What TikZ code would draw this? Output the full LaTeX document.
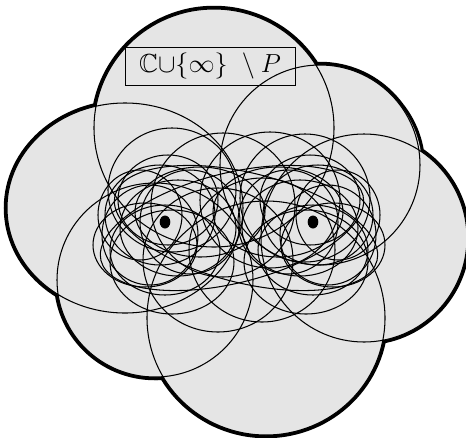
\documentclass[tikz,border=0pt]{standalone}
\usepackage{graphicx}
\usepackage{amssymb}
\begin{document}
\begin{tikzpicture}[x=1pt,y=-1pt,
  thinline/.style={line width=1.05pt},
  thickrim/.style={line width=6.5pt},
  dotstyle/.style={fill=black}]
\useasboundingbox (0,0) rectangle (466,437);
% outer big ellipses
\newcommand\bigA{(214,128) ellipse [x radius=120pt, y radius=119pt]}
\newcommand\bigB{(125,208) ellipse [x radius=118pt, y radius=105pt]}
\newcommand\bigC{(320,165) ellipse [x radius=100pt, y radius=100pt]}
\newcommand\bigCC{(322,167) ellipse [x radius=100pt, y radius=99pt]}
\newcommand\bigD{(364,238) ellipse [x radius=103pt, y radius=104pt]}
\newcommand\bigE{(155,280) ellipse [x radius=98pt, y radius=97pt]}
\newcommand\bigEE{(157,281) ellipse [x radius=97pt, y radius=96pt]}
\newcommand\bigF{(266,318) ellipse [x radius=119pt, y radius=117pt]}
% thick rim
\draw[thickrim] \bigA \bigB \bigC \bigCC \bigD \bigE \bigEE \bigF;
% gray fill of union
\fill[gray!20] \bigA \bigB \bigC \bigCC \bigD \bigE \bigEE \bigF;
% thin outlines of big ones
\draw[thinline] \bigA \bigB \bigC \bigD \bigE \bigF;
% middle circles
\foreach \cx/\cy/\rx/\ry in {
  223/205/72/72, 270/200/70/68, 218/260/75/72, 262/250/73/72,
  172/190/64/62, 305/198/65/64}
  \draw[thinline] (\cx,\cy) ellipse [x radius=\rx pt, y radius=\ry pt];
% left cluster
\foreach \cx/\cy/\rx/\ry in {
  160/215/55/50, 178/228/58/48, 150/235/48/50, 190/222/50/52,
  165/250/55/45, 140/215/42/45, 200/212/65/45, 172/262/62/52,
  145/245/52/42, 168/200/50/45}
  \draw[thinline] (\cx,\cy) ellipse [x radius=\rx pt, y radius=\ry pt];
% right cluster
\foreach \cx/\cy/\rx/\ry in {
  318/215/55/50, 300/228/58/48, 328/235/48/50, 288/222/50/52,
  313/250/55/45, 338/215/42/45, 278/212/65/45, 306/262/62/52,
  333/245/52/42, 310/200/50/45}
  \draw[thinline] (\cx,\cy) ellipse [x radius=\rx pt, y radius=\ry pt];
% long tilted ellipses
\draw[thinline,rotate around={14:(232,228)}] (232,228) ellipse [x radius=135pt, y radius=55pt];
\draw[thinline,rotate around={-14:(246,228)}] (246,228) ellipse [x radius=135pt, y radius=55pt];
% points
\fill[dotstyle] (165,222) ellipse [x radius=5.3pt, y radius=6.5pt];
\fill[dotstyle] (313,222) ellipse [x radius=5.3pt, y radius=6.5pt];
% label
\node[draw, line width=0.6pt, inner sep=2pt, minimum width=170pt, minimum height=38pt] (lab) at (210,66) {\scalebox{1.05}{\Huge$\mathbb{C}{\cup}\{\infty\}\hspace{8pt}\setminus P$}};
\end{tikzpicture}
\end{document}
